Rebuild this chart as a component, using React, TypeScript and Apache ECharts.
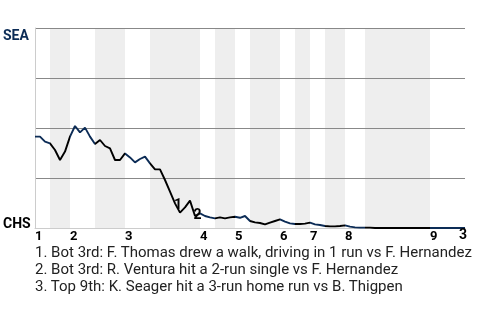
import React, { useEffect, useRef } from 'react';
import * as echarts from 'echarts';

// SEA win probability (%) after each event, event index 0..86
const seaWinPct = [
  45.7, 45.7, 43.2, 42.3, 39, 34, 38.2, 45.7, 51, 47.8,
  50.2, 45.7, 42, 44, 41, 39.8, 34, 34, 37.3, 35.3,
  32.8, 34.5, 35.7, 32.3, 29.3, 29.3, 24, 18.2, 12.3, 7.7,
  10.3, 13.7, 6, 7.3, 6, 5.3, 4.8, 5.3, 4.8, 5.3,
  5.6, 5.1, 6, 3.5, 2.8, 2.5, 1.8, 2.7, 3.5, 4.3,
  3.2, 2.3, 2, 2, 2.2, 2.7, 1.8, 1.5, 1, 0.8,
  0.8, 1, 1.3, 0.7, 0.3, 0.2, 0.2, 0.2, 0, 0,
  0, 0, 0, 0, 0, 0, 0, 0, 0, 0,
  0, 0, 0, 0, 0, 0, 0,
];

// Event index where each half-inning begins (top 1, bot 1, top 2, ...), last = end
const halfInningBounds = [0, 3, 7, 12, 18, 23, 33, 36, 40, 43, 49, 52, 55, 58, 62, 66, 79, 86];
const inningLabels = ['1', '2', '3', '4', '5', '6', '7', '8', '9'];

// Key events: event index and description
const keyEventIndex = [29, 32, 86];
const keyEventText = [
  '1. Bot 3rd: F. Thomas drew a walk, driving in 1 run vs F. Hernandez',
  '2. Bot 3rd: R. Ventura hit a 2-run single vs F. Hernandez',
  '3. Top 9th: K. Seager hit a 3-run home run vs B. Thigpen',
];

const teamTop = 'SEA';
const teamBottom = 'CHS';

const NAVY = '#0c2c56';
const FONT = 'Roboto';

export default function App() {
  const ref = useRef<HTMLDivElement>(null);

  useEffect(() => {
    const chart = echarts.init(ref.current!, null, { renderer: 'svg' });

    const inningStarts = halfInningBounds.filter((_, i) => i % 2 === 0 && i < halfInningBounds.length - 1);
    const bands: any[] = [];
    const pieces: any[] = [];
    for (let k = 0; k < halfInningBounds.length - 1; k++) {
      const a = halfInningBounds[k];
      const b = halfInningBounds[k + 1];
      if (k % 2 === 1) bands.push([{ xAxis: a }, { xAxis: b }]);
      const last = k === halfInningBounds.length - 2;
      const color = k % 2 === 0 ? NAVY : '#000';
      pieces.push(last ? { gte: a, lte: b + 1, color } : { gte: a, lt: b, color });
    }
    const labelOffsets = [[-2, -9], [2.5, -2.5], [-2, 6]];

    const option: any = {
      animation: false,
      grid: { left: 35, right: 15, top: 28, bottom: 92 },
      xAxis: {
        type: 'value',
        min: 0,
        max: halfInningBounds[halfInningBounds.length - 1],
        z: 1,
        axisLine: { show: true, lineStyle: { color: '#cccccc', width: 1 } },
        axisTick: { show: false },
        splitLine: { show: false },
        axisLabel: {
          customValues: inningStarts,
          formatter: (v: number) => inningLabels[inningStarts.indexOf(v)] ?? '',
          color: '#000',
          fontWeight: 'bold',
          fontSize: 13,
          lineHeight: 11,
          fontFamily: FONT,
          align: 'left',
          margin: 2,
          hideOverlap: false,
        },
      },
      yAxis: {
        type: 'value',
        min: 0,
        max: 100,
        interval: 25,
        axisLine: { show: true, lineStyle: { color: '#cccccc', width: 1 } },
        axisTick: { show: false },
        axisLabel: { show: false },
        splitLine: { show: true, lineStyle: { color: '#888888', width: 1 } },
      },
      visualMap: {
        type: 'piecewise',
        show: false,
        dimension: 0,
        seriesIndex: 1,
        pieces,
      },
      graphic: [
        {
          type: 'text', left: 3, y: 35,
          style: { text: teamTop, font: `bold 14px ${FONT}`, fill: NAVY, verticalAlign: 'middle' },
        },
        {
          type: 'text', left: 3, y: 223,
          style: { text: teamBottom, font: `bold 14px ${FONT}`, fill: '#000', verticalAlign: 'middle' },
        },
        ...keyEventText.map((t, i) => ({
          type: 'text', x: 35, y: 251.5 + 17 * i,
          style: { text: t, font: `15px ${FONT}`, lineHeight: 14, fill: '#222', verticalAlign: 'middle' },
        })),
      ],
      series: [
        {
          type: 'line',
          data: [[0, 0]],
          symbol: 'none',
          lineStyle: { opacity: 0 },
          z: -1,
          silent: true,
          markArea: {
            silent: true,
            z: -1,
            itemStyle: { color: '#eeeeee' },
            data: bands,
          },
        },
        {
          type: 'line',
          data: seaWinPct.map((v, i) => [i, v]),
          symbol: 'none',
          lineStyle: { width: 1.9 },
          z: 3,
        },
        {
          type: 'scatter',
          symbolSize: 0.01,
          itemStyle: { color: '#000' },
          z: 4,
          silent: true,
          data: keyEventIndex.map((idx, i) => ({
            value: [idx, seaWinPct[idx]],
            name: String(i + 1),
            label: { offset: labelOffsets[i] },
          })),
          label: {
            show: true,
            position: 'inside',
            formatter: (p: any) => p.name,
            color: '#000',
            opacity: 1,
            textBorderWidth: 0,
            fontWeight: 'bold',
            fontSize: 14,
            fontFamily: FONT,
          },
        },
      ],
    };

    chart.setOption(option);
    return () => chart.dispose();
  }, []);

  return <div ref={ref} style={{ position: 'fixed', left: 0, top: 0, width: 480, height: 320 }} />;
}
